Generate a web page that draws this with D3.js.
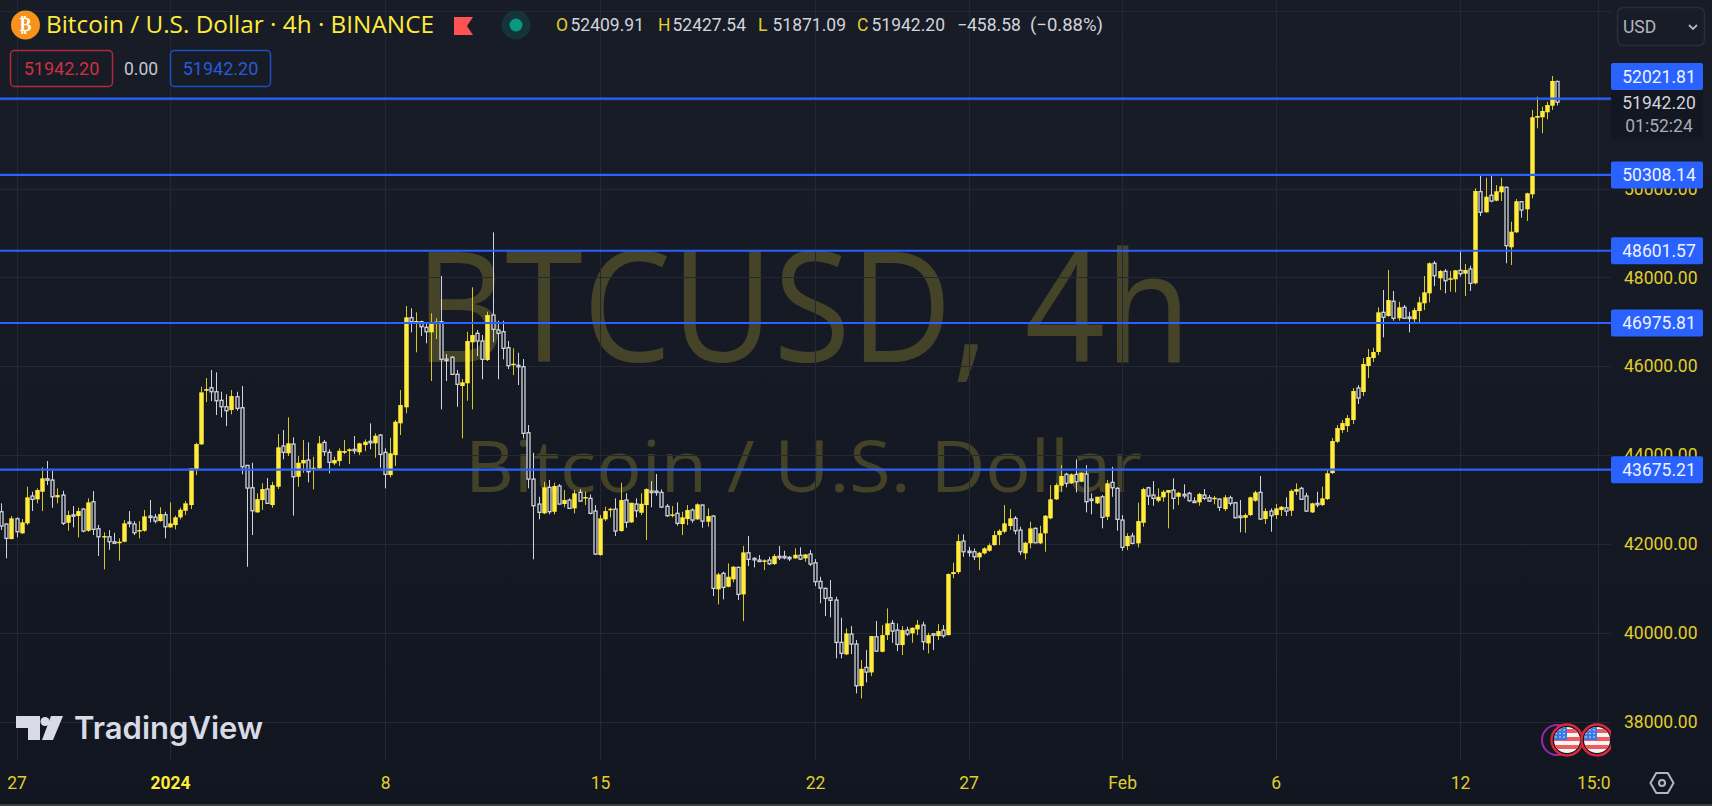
<!DOCTYPE html>
<html>
<head>
<meta charset="utf-8">
<script src="https://cdn.jsdelivr.net/npm/d3@7"></script>
<style>
  html, body { margin: 0; padding: 0; background: #131722; overflow: hidden; }
  svg { display: block; }
  text { font-family: Roboto, sans-serif; }
</style>
</head>
<body>
<svg id="chart"></svg>
<script>
const highs = [
42919,42469,42633,42604,42565,43292,43180,43256,43729,43870,
43652,43256,43202,42752,42858,42820,42806,43031,43196,42430,
42266,42318,42257,42131,42543,42745,42520,42520,42768,42993,
42678,42829,42730,42941,42640,42820,42970,43706,44282,45542,
45738,45918,45866,45430,45371,45468,45430,45558,43780,43832,
43144,43369,43488,43405,44478,44568,44854,44404,43983,44343,
44291,43967,44433,44343,44134,43967,44156,44343,44156,44433,
44282,44358,44718,44493,44478,44156,44395,44793,45468,47358,
47306,47216,47027,46968,47194,47081,48033,46278,46233,45918,
45715,46779,47779,46818,46705,47230,49016,47027,47027,46571,
46406,46307,46165,44680,44057,43067,43405,43443,43382,43353,
43218,43031,43218,43240,43180,43121,42880,42655,42842,42820,
43031,43382,43144,42932,43031,43144,43256,43420,43578,43234,
42903,42858,42941,42730,42880,42806,42919,42896,42806,42655,
41357,41380,41569,41508,41493,41958,42183,41704,41755,41659,
41717,41778,41958,41852,41733,41906,41929,41778,41868,41665,
41267,41020,41193,40817,40345,40106,40158,39843,39393,39618,
39933,40270,40180,40556,40293,40219,40158,40142,40129,40293,
40255,40007,39993,40203,40180,41344,41583,42221,42221,41942,
41906,41830,41929,42019,42302,42334,42880,42790,42633,42392,
42055,42505,42379,42415,42655,43330,43369,43780,43607,43594,
43909,43616,43780,43144,43067,43105,43443,43742,43279,42655,
42244,42257,42932,43270,43292,43420,43256,43218,43218,43481,
43180,43346,43180,43054,43157,43240,43105,43083,43031,43105,
43090,42955,42993,42694,43067,43202,43533,42806,42806,42903,
42858,43054,43234,43369,43292,43157,42932,43180,43292,43668,
44388,44680,44793,44905,45513,45580,46188,46390,46420,47329,
47718,48168,47696,47455,47381,47230,47320,47567,48033,48341,
48370,48168,48190,48145,48168,48595,48303,48265,50006,50305,
50245,50305,50080,50245,50043,49255,49765,49720,49907,51768,
52067,51842,51954,52533,52427.54];

const lows = [
42318,41681,42109,42154,42228,42430,42745,42919,42745,43330,
42820,42919,42430,42302,42379,42154,42266,42280,42205,41733,
41434,41874,42041,41630,42041,42379,42205,42131,42280,42491,
42469,42505,42131,42370,42334,42559,42655,42790,43555,44230,
45198,45220,44905,44854,44658,44921,45002,43571,41492,42205,
42707,42768,42903,42820,43240,43909,43983,42642,43292,43607,
43391,43234,43690,43990,43594,43780,43758,44028,43803,44028,
44005,44095,44134,43945,43720,43256,43504,43758,44455,44944,
46764,46316,46683,46518,45670,46615,45034,45670,45805,45092,
44381,45227,45034,46233,45709,46120,46541,45709,46159,45940,
45805,45580,44381,43256,41659,42559,42678,42671,42671,42896,
42829,42790,42694,42955,42880,42671,41755,41744,42520,42604,
42183,42280,42370,42482,42604,42655,42093,42829,43090,42820,
42617,42604,42415,42205,42430,42482,42543,42370,42392,40833,
40646,40758,41029,41142,40743,40270,41508,41478,41598,41418,
41530,41530,41643,41659,41620,41672,41643,41605,41508,41058,
40668,40383,40354,39431,39431,39505,39528,38644,38531,38891,
39033,39580,39566,39843,39782,39595,39505,39933,39782,39955,
39618,39543,39618,39843,39895,39945,41238,41328,41717,41717,
41643,41418,41771,41830,41965,41980,42244,42318,42221,41755,
41659,41906,42019,42003,41830,42559,42993,43180,43279,43353,
43166,43391,42716,42671,42903,42356,42543,43067,42302,41852,
41868,41996,41929,42392,42880,42865,42941,42955,42356,42784,
42880,43031,42955,42941,42865,42993,42955,42896,42745,42745,
42865,42581,42266,42257,42633,42955,42543,42453,42280,42565,
42633,42633,42633,43105,42993,42730,42700,42829,42858,42993,
43578,44275,44500,44523,44703,45153,45333,45738,46098,46255,
46654,47117,47027,47027,47065,46766,46991,46982,47268,47441,
47808,47718,47644,47680,47667,48017,47583,47696,47846,49383,
49457,49691,49714,49720,48319,48280,49000,49345,49270,49781,
51356,51244,51559,51768,51871.09];

const opens = [
42730,42453,42115,42572,42244,42469,43083,43009,43180,43472,
43443,43054,43105,42482,42662,42633,42790,42302,42955,42347,
42167,42167,42055,42041,42055,42498,42453,42296,42302,42633,
42610,42520,42662,42379,42430,42604,42752,42880,43668,44246,
45452,45520,45430,45236,45092,45018,45317,45070,43773,43270,
42716,42993,43240,42880,43292,44208,44044,44253,43517,43818,
43893,43668,43706,44291,44066,43818,43870,44057,44095,44134,
44066,44230,44314,44269,44455,44066,43555,44005,44719,45079,
47095,46982,47005,46879,46766,46969,47005,46165,46204,45821,
45558,45619,46541,46744,46570,46143,47155,46818,46780,46420,
46037,46024,45992,44507,43465,42903,42694,43279,42730,43308,
42903,42993,42806,43166,43031,43031,42745,41755,42559,42768,
42790,42296,42993,42491,42903,42707,42880,43195,43195,43166,
42851,42640,42694,42453,42565,42768,42559,42880,42505,42633,
40984,41344,41042,41209,41479,40871,41807,41681,41643,41614,
41643,41553,41726,41726,41704,41681,41749,41681,41778,41582,
41164,41006,40795,40743,39791,39521,39978,39753,38808,39229,
39115,39917,39580,39955,40219,40068,39730,40068,39994,40083,
40180,39768,39985,39933,40068,39955,41328,41373,42070,41845,
41830,41704,41794,41852,41980,42205,42280,42408,42581,42318,
41794,42019,42356,42019,42244,42581,43009,43315,43571,43369,
43571,43405,43578,43015,42919,43067,42617,43391,43256,42543,
41958,42183,42019,42482,43270,43105,42977,43054,43157,43218,
43067,43121,43144,42970,42941,43105,43045,43022,43015,42790,
43045,42932,42633,42595,42655,42977,43166,42565,42745,42655,
42768,42820,42752,43180,43256,43083,42716,42919,42880,43015,
43600,44305,44568,44658,44793,45513,45423,46008,46188,46323,
47216,47133,47464,47081,47329,47111,47059,47245,47419,47644,
48319,47981,48139,47959,47959,48161,48085,48190,47869,49930,
49466,49849,49727,49916,50029,48679,49016,49705,49534,49871,
51595,51604,51716,51865,52409.91];

const closes = [
42408,42131,42581,42280,42491,43054,43009,43218,43481,43459,
43067,43105,42469,42655,42649,42745,42296,42941,42334,42167,
42183,42055,42041,42055,42469,42475,42257,42318,42626,42610,
42520,42678,42392,42469,42604,42775,42919,43706,44253,45416,
45490,45430,45227,45092,45002,45333,45056,43742,43263,42752,
43015,43240,42919,43330,44179,44066,44269,43517,43832,43893,
43630,43720,44269,44080,43841,43893,44102,44095,44134,44102,
44269,44305,44282,44440,44021,43571,44044,44755,45130,47104,
47005,47020,46892,46780,46991,47005,46159,46136,45821,45596,
45641,46570,46705,46570,46159,47155,46834,46744,46406,46015,
46060,45992,44494,43465,42865,42716,43279,42730,43308,42903,
42993,42806,43144,42970,43060,42694,41778,42581,42745,42797,
42296,42993,42491,42932,42752,42910,43240,43173,43173,42835,
42640,42671,42469,42604,42768,42543,42896,42520,42633,41006,
41321,41029,41267,41493,40871,41816,41659,41665,41614,41636,
41560,41733,41704,41704,41688,41762,41665,41771,41553,41155,
41013,40781,40736,39791,39544,39994,39753,38815,39197,39123,
39933,39595,39955,40219,40045,39745,40068,39978,40120,40187,
39805,39955,39971,40045,39940,41328,41373,42070,41830,41830,
41717,41807,41906,41974,42205,42302,42469,42581,42302,41830,
42032,42356,42032,42244,42640,43009,43330,43533,43369,43571,
43405,43607,42955,42993,43067,42604,43369,43270,42559,41929,
42183,42019,42520,43240,43083,43031,43067,43180,43218,43031,
43157,43105,42977,42948,43128,43031,42970,43045,42829,43054,
42919,42595,42610,42655,43054,43166,42565,42745,42640,42806,
42842,42745,43202,43240,43009,42745,42919,42903,43031,43594,
44320,44613,44725,44838,45445,45288,46053,46210,46323,47216,
47104,47493,47081,47329,47081,47088,47268,47441,47666,48319,
48040,48145,47927,47981,48161,48085,48168,47869,49945,49466,
49817,49720,49939,50051,48715,49030,49714,49518,49894,51604,
51633,51745,51880,52420,51942.20];

const priceTicks = [54000, 52000, 50000, 48000, 46000, 44000, 42000, 40000, 38000];
const levels = [52021.81, 50308.14, 48601.57, 46975.81, 43675.21];
const dayIndex = [3, 33, 75, 117, 159, 189, 219, 249, 285, 312];
const dayLabels = ["27", "2024", "8", "15", "22", "27", "Feb", "6", "12", "15:00"];
const legendOhlc = [["O", "52409.91", 556], ["H", "52427.54", 658], ["L", "51871.09", 758], ["C", "51942.20", 857]];

const W = 1712, H = 806, paneW = 1611, paneH = 760;
const yellow = "#ffeb3b", axisYellow = "#e0ce2c", blue = "#2962ff", grey = "#d1d4dc";

const svg = d3.select("#chart").attr("width", W).attr("height", H);
const defs = svg.append("defs");

const bg = defs.append("linearGradient").attr("id", "bg").attr("x1", 0).attr("y1", 0).attr("x2", 0).attr("y2", 1);
bg.append("stop").attr("offset", 0).attr("stop-color", "#181c27");
bg.append("stop").attr("offset", 1).attr("stop-color", "#121620");
defs.append("clipPath").attr("id", "pane").append("rect").attr("width", paneW).attr("height", H);

svg.append("rect").attr("width", W).attr("height", H).attr("fill", "url(#bg)");

const x = d3.scaleLinear().domain([3, 285]).range([16.5, 1460]);
const y = d3.scaleLinear().domain([38000, 52021.81]).range([722, 98.7]);

// watermark
const wm = svg.append("g").attr("fill", yellow).attr("opacity", 0.2);
wm.append("text").attr("x", 415).attr("y", 362).attr("font-size", 154).style("font-family", "Open Sans")
    .attr("textLength", 776).attr("lengthAdjust", "spacingAndGlyphs").text("BTCUSD, 4h");
wm.append("text").attr("x", 465).attr("y", 492).attr("font-size", 72).style("font-family", "Open Sans")
    .attr("textLength", 677).attr("lengthAdjust", "spacingAndGlyphs").text("Bitcoin / U.S. Dollar");

// grid
const grid = svg.append("g").attr("stroke", "#242833").attr("stroke-width", 1).attr("clip-path", "url(#pane)");
grid.selectAll(".h").data(priceTicks).enter().append("line")
    .attr("x1", 0).attr("x2", paneW)
    .attr("y1", d => Math.round(y(d)) + 0.5).attr("y2", d => Math.round(y(d)) + 0.5);
grid.selectAll(".v").data(dayIndex).enter().append("line")
    .attr("y1", 0).attr("y2", paneH)
    .attr("x1", d => Math.round(x(d)) + 0.5).attr("x2", d => Math.round(x(d)) + 0.5);

// candles
const candles = svg.append("g").selectAll("g").data(d3.range(opens.length)).enter().append("g");
const up = i => closes[i] >= opens[i];
const cx = i => Math.round(x(i)) + 0.5;

candles.append("line")
    .attr("x1", cx).attr("x2", cx)
    .attr("y1", i => y(highs[i])).attr("y2", i => y(lows[i]))
    .attr("stroke", i => up(i) ? "#d8c622" : grey)
    .attr("stroke-width", 1);

candles.append("rect")
    .attr("x", i => up(i) ? cx(i) - 2.25 : cx(i) - 1.5)
    .attr("width", i => up(i) ? 4.5 : 3)
    .attr("y", i => y(Math.max(opens[i], closes[i])))
    .attr("height", i => Math.max(1.5, Math.abs(y(opens[i]) - y(closes[i]))))
    .attr("fill", i => up(i) ? yellow : "#131722")
    .attr("stroke", i => up(i) ? "none" : grey)
    .attr("stroke-width", 1.3);

// horizontal levels
svg.append("g").selectAll("line").data(levels).enter().append("line")
    .attr("x1", 0).attr("x2", paneW)
    .attr("y1", d => y(d)).attr("y2", d => y(d))
    .attr("stroke", blue).attr("stroke-width", 2.2);

// flags near the bottom right
const flagCx = [1567, 1597];
svg.append("circle").attr("cx", 1557).attr("cy", 740).attr("r", 15)
    .attr("fill", "none").attr("stroke", "#9c27b0").attr("stroke-width", 2);
const flags = svg.append("g").attr("clip-path", "url(#pane)");
flagCx.forEach((c, k) => {
    defs.append("clipPath").attr("id", "flag" + k).append("circle").attr("cx", c).attr("cy", 740).attr("r", 13);
    flags.append("circle").attr("cx", c).attr("cy", 740).attr("r", 15.5)
        .attr("fill", "#131722").attr("stroke", "#e0263a").attr("stroke-width", 2.4);
    const f = flags.append("g").attr("clip-path", `url(#flag${k})`);
    f.append("rect").attr("x", c - 14).attr("y", 726).attr("width", 28).attr("height", 28).attr("fill", "#f4f4f4");
    [729, 737, 745].forEach(t => f.append("rect").attr("x", c - 14).attr("y", t).attr("width", 28).attr("height", 4).attr("fill", "#ef5a5f"));
    f.append("rect").attr("x", c - 14).attr("y", 726).attr("width", 14).attr("height", 14).attr("fill", "#3b78e0");
    d3.range(3).forEach(a => d3.range(3).forEach(b =>
        f.append("circle").attr("cx", c - 11 + a * 4).attr("cy", 730 + b * 3.5).attr("r", 0.8).attr("fill", "#dfe8fa")));
});

// price axis
const yAxis = svg.append("g")
    .attr("transform", `translate(${paneW},0)`)
    .call(d3.axisRight(y).tickValues(priceTicks.slice(1)).tickSize(0).tickPadding(13).tickFormat(d3.format(".2f")));
yAxis.select(".domain").remove();
yAxis.selectAll("text").attr("fill", axisYellow).style("font-size", "17.5px").style("font-family", "Roboto");

// countdown block
svg.append("rect").attr("x", paneW).attr("y", 89).attr("width", 92).attr("height", 50).attr("fill", "#131722");
svg.append("text").attr("x", 1659).attr("y", 103).attr("dy", "0.35em").attr("text-anchor", "middle")
    .attr("fill", grey).style("font-size", "17.5px").text("51942.20");
svg.append("text").attr("x", 1659).attr("y", 126).attr("dy", "0.35em").attr("text-anchor", "middle")
    .attr("fill", "#a9acb5").style("font-size", "17.5px").text("01:52:24");

// level tags, the top one is pushed up by the countdown block
const tagY = d => d === levels[0] ? 76.5 : y(d);
const tags = svg.append("g").selectAll("g").data(levels).enter().append("g");
tags.append("rect").attr("x", paneW).attr("y", d => tagY(d) - 13.5).attr("width", 92).attr("height", 27).attr("rx", 2)
    .attr("fill", blue);
tags.append("text").attr("x", 1659).attr("y", tagY).attr("dy", "0.35em").attr("text-anchor", "middle")
    .attr("fill", "#eef2ff").style("font-size", "17.5px").text(d => d3.format(".2f")(d));

// time axis
const xAxis = svg.append("g")
    .attr("transform", `translate(0,${paneH})`)
    .attr("clip-path", "url(#timeClip)")
    .call(d3.axisBottom(x).tickValues(dayIndex).tickSize(0).tickPadding(17).tickFormat((d, i) => dayLabels[i]));
defs.append("clipPath").attr("id", "timeClip").append("rect").attr("x", 0).attr("y", 0).attr("width", paneW).attr("height", 46);
xAxis.select(".domain").remove();
xAxis.selectAll("text")
    .attr("fill", (d, i) => dayLabels[i] === "2024" ? yellow : axisYellow)
    .style("font-weight", (d, i) => dayLabels[i] === "2024" ? 700 : 400)
    .style("font-size", "17.5px").style("font-family", "Roboto");

// settings hexagon
const hexR = 11.5;
svg.append("polygon")
    .attr("points", d3.range(6).map(k => {
        const a = k * Math.PI / 3;
        return [1662 + hexR * Math.cos(a), 783 + hexR * Math.sin(a)].join(",");
    }).join(" "))
    .attr("fill", "none").attr("stroke", "#b2b5be").attr("stroke-width", 2);
svg.append("circle").attr("cx", 1662).attr("cy", 783).attr("r", 3).attr("fill", "none").attr("stroke", "#b2b5be").attr("stroke-width", 2);
svg.append("rect").attr("x", 0).attr("y", 804).attr("width", W).attr("height", 2).attr("fill", "#3a3d46");

// TradingView logo
const logo = svg.append("g").attr("fill", "#d8dbe5");
logo.append("path").attr("d", "M16 716H40V740H28V728H16Z");
logo.append("circle").attr("cx", 45).attr("cy", 721.5).attr("r", 4.5);
logo.append("path").attr("d", "M51 716H63L53 740H42Z");
logo.append("text").attr("x", 74).attr("y", 739).attr("font-size", 31).attr("font-weight", 600)
    .style("font-family", "Inter").attr("textLength", 189).attr("lengthAdjust", "spacingAndGlyphs").text("TradingView");

// header
svg.append("circle").attr("cx", 25.5).attr("cy", 25).attr("r", 14.5).attr("fill", "#f7931a");
svg.append("text").attr("x", 25.5).attr("y", 25).attr("dy", "0.36em").attr("text-anchor", "middle")
    .attr("fill", "#fff").attr("font-weight", 700).style("font-size", "18px").style("font-family", "DejaVu Sans").text("\u20BF");
svg.append("text").attr("x", 46).attr("y", 33).attr("fill", yellow).style("font-size", "23px").style("font-family", "Open Sans")
    .attr("textLength", 388).attr("lengthAdjust", "spacingAndGlyphs").text("Bitcoin / U.S. Dollar \u00B7 4h \u00B7 BINANCE");
svg.append("path").attr("d", "M454 17H473L467 26L473 35H454Z").attr("fill", "#ff5252");
svg.append("circle").attr("cx", 516).attr("cy", 25).attr("r", 14.5).attr("fill", "#16333a");
svg.append("circle").attr("cx", 516).attr("cy", 25).attr("r", 6.5).attr("fill", "#089981");

const legend = svg.append("g").style("font-size", "17.5px");
legendOhlc.forEach(([k, v, px]) => {
    legend.append("text").attr("x", px).attr("y", 31).attr("fill", axisYellow).text(k);
    legend.append("text").attr("x", px + 14.5).attr("y", 31).attr("fill", grey).text(v);
});
legend.append("text").attr("x", 957).attr("y", 31).attr("fill", grey).text("\u2212458.58");
legend.append("text").attr("x", 1030).attr("y", 31).attr("fill", grey).style("font-size", "18.5px").text("(\u22120.88%)");

// value boxes
svg.append("rect").attr("x", 10.5).attr("y", 50.5).attr("width", 102).attr("height", 36).attr("rx", 4)
    .attr("fill", "none").attr("stroke", "#b5283a").attr("stroke-width", 1.5);
svg.append("text").attr("x", 61.5).attr("y", 69).attr("dy", "0.35em").attr("text-anchor", "middle")
    .attr("fill", "#d0303f").style("font-size", "18px").text("51942.20");
svg.append("text").attr("x", 141).attr("y", 69).attr("dy", "0.35em").attr("text-anchor", "middle")
    .attr("fill", "#c4c8d0").style("font-size", "17.5px").text("0.00");
svg.append("rect").attr("x", 170.5).attr("y", 50.5).attr("width", 100).attr("height", 36).attr("rx", 4)
    .attr("fill", "none").attr("stroke", "#1f4fc4").attr("stroke-width", 1.5);
svg.append("text").attr("x", 220.5).attr("y", 69).attr("dy", "0.35em").attr("text-anchor", "middle")
    .attr("fill", "#2a5ad8").style("font-size", "18px").text("51942.20");

// currency box
svg.append("rect").attr("x", 1617.5).attr("y", 7.5).attr("width", 87).attr("height", 38).attr("rx", 6)
    .attr("fill", "none").attr("stroke", "#2a2e39").attr("stroke-width", 1.5);
svg.append("text").attr("x", 1623).attr("y", 27).attr("dy", "0.35em").attr("fill", "#b2b5be").style("font-size", "17.5px").text("USD");
svg.append("path").attr("d", "M1689 25L1693 29L1697 25").attr("fill", "none").attr("stroke", "#b2b5be").attr("stroke-width", 1.8);
</script>
</body>
</html>
